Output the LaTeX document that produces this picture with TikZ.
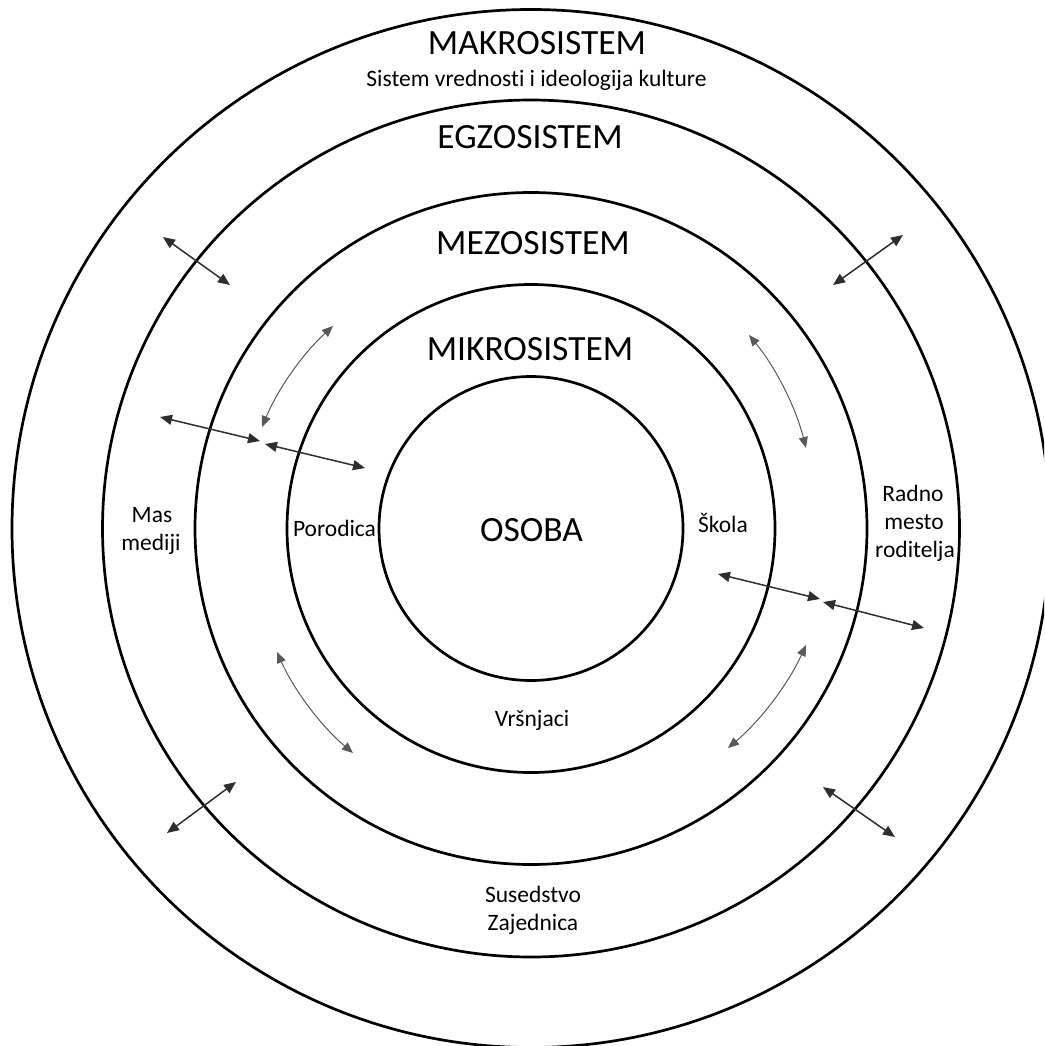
\documentclass[tikz,border=0pt]{standalone}
\usepackage{fontspec}
\setmainfont{Carlito}[Ligatures=NoCommon]
\usetikzlibrary{arrows.meta}
\begin{document}
\begin{tikzpicture}[x=1pt,y=-1pt,
  ring/.style={draw=black, line width=2.7pt},
  hdr/.style={font=\fontsize{35.5}{40}\selectfont, anchor=base, inner sep=0pt},
  lbl/.style={font=\fontsize{23.5}{28}\selectfont, anchor=base, inner sep=0pt},
  link/.style={draw=black!82, line width=1.5pt,
    {Triangle[length=12pt,width=10pt]}-{Triangle[length=12pt,width=10pt]}},
  swing/.style={draw=black!65, line width=1pt, looseness=0.85,
    {Triangle[length=11pt,width=9pt]}-{Triangle[length=11pt,width=9pt]}}]
\useasboundingbox (0,0) rectangle (1044,1046);
\fill[white] (0,0) rectangle (1044,1046);
\clip (0,0) rectangle (1044,1046);
\coordinate (c) at (531,528.5);
% rings
\draw[ring] (c) circle[radius=519pt];
\draw[ring] (c) circle[radius=428.5pt];
\draw[ring] (c) circle[radius=336pt];
\draw[ring] (c) circle[radius=244pt];
\draw[ring] (c) circle[radius=152pt];
% headings
\node[hdr] (makro) at (537,55) {MAKROSISTEM};
\node[lbl] (makrotxt) at (536.5,86.5) {Sistem vrednosti i ideologija kulture};
\node[hdr] (egzo) at (530,148) {EGZOSISTEM};
\node[hdr] (mezo) at (533,254) {MEZOSISTEM};
\node[hdr] (mikro) at (530,360) {MIKROSISTEM};
\node[hdr] (osoba) at (531.5,541) {OSOBA};
% labels
\node[lbl] (porodica) at (334.5,536) {Porodica};
\node[lbl] (skola) at (723,532) {Škola};
\node[lbl] (vrsnjaci) at (532,726) {Vršnjaci};
\node[lbl] (mas1) at (152,522) {Mas};
\node[lbl] (mas2) at (151,550) {mediji};
\node[lbl] (radno1) at (913,501) {Radno};
\node[lbl] (radno2) at (914,529) {mesto};
\node[lbl] (radno3) at (915,557) {roditelja};
\node[lbl] (sused1) at (533,902) {Susedstvo};
\node[lbl] (sused2) at (533,930) {Zajednica};
% arrow end points
\coordinate (a1) at (163,237);  \coordinate (a2) at (230,285);
\coordinate (b1) at (333,326);  \coordinate (b2) at (262,427);
\coordinate (c1) at (160,417);  \coordinate (c2) at (260,441);
\coordinate (d1) at (265,444);  \coordinate (d2) at (365,468);
\coordinate (e1) at (903,235);  \coordinate (e2) at (833,285);
\coordinate (f1) at (749,335);  \coordinate (f2) at (806,448);
\coordinate (g1) at (277,652);  \coordinate (g2) at (353,753);
\coordinate (h1) at (236,782);  \coordinate (h2) at (167,833);
\coordinate (i1) at (806,645);  \coordinate (i2) at (728,748);
\coordinate (j1) at (823,787);  \coordinate (j2) at (895,837);
\coordinate (k1) at (718,574);  \coordinate (k2) at (820,599);
\coordinate (l1) at (823,602);  \coordinate (l2) at (924,628);
% straight arrows
\draw[link] (a1) -- (a2);
\draw[link] (c1) -- (c2);
\draw[link] (d1) -- (d2);
\draw[link] (e1) -- (e2);
\draw[link] (h1) -- (h2);
\draw[link] (j1) -- (j2);
\draw[link] (k1) -- (k2);
\draw[link] (l1) -- (l2);
% curved arrows
\draw[swing] (b1) to[bend right=12.5] (b2);
\draw[swing] (f1) to[bend left=12.6] (f2);
\draw[swing] (g1) to[bend right=12.9] (g2);
\draw[swing] (i1) to[bend left=12.6] (i2);
\end{tikzpicture}
\end{document}
